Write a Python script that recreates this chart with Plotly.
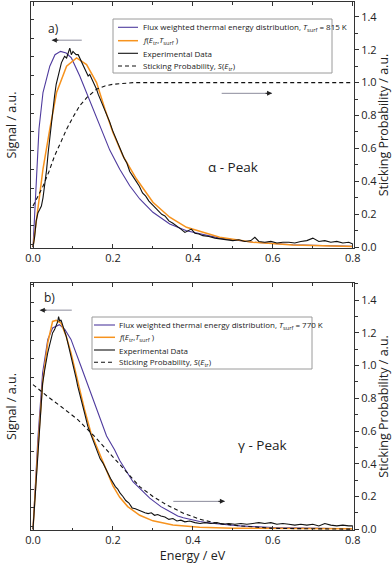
import plotly.graph_objects as go

# ---- panel a) alpha peak, T_surf = 815 K ----
a_flux_e = [0.0, 0.007, 0.015, 0.025, 0.042, 0.055, 0.069, 0.083, 0.096, 0.117, 0.13, 0.142,
            0.167, 0.192, 0.217, 0.242, 0.267, 0.30, 0.342, 0.384, 0.467, 0.55, 0.65, 0.80]
a_flux_v = [0.0, 0.37, 0.72, 0.94, 1.10, 1.17, 1.19, 1.18, 1.15, 1.04, 0.96, 0.89,
            0.74, 0.59, 0.474, 0.373, 0.293, 0.212, 0.141, 0.10, 0.055, 0.03, 0.015, 0.005]

a_fit_e = [0.0, 0.0085, 0.025, 0.042, 0.059, 0.084, 0.109, 0.134, 0.159, 0.18, 0.2, 0.225,
           0.259, 0.30, 0.342, 0.384, 0.467, 0.55, 0.65, 0.80]
a_fit_v = [0.0, 0.17, 0.475, 0.717, 0.94, 1.10, 1.15, 1.11, 1.0, 0.838, 0.697, 0.555,
           0.414, 0.273, 0.182, 0.121, 0.06, 0.03, 0.013, 0.004]

a_exp_e = [0.000, 0.004, 0.008, 0.0125, 0.017, 0.021, 0.025, 0.029, 0.034, 0.038, 0.042, 0.046,
           0.050, 0.054, 0.058, 0.063, 0.067, 0.071, 0.075, 0.079, 0.084, 0.088, 0.092, 0.096,
           0.100, 0.104, 0.108, 0.113, 0.117, 0.121, 0.125, 0.129, 0.134, 0.138, 0.142, 0.146,
           0.150, 0.155, 0.159, 0.163, 0.170, 0.177, 0.184, 0.192, 0.199, 0.206, 0.213, 0.220,
           0.228, 0.235, 0.242, 0.250, 0.258, 0.266, 0.274, 0.282, 0.290, 0.298, 0.306, 0.314,
           0.322, 0.330, 0.340, 0.350, 0.360, 0.370, 0.380, 0.388, 0.396, 0.405, 0.415, 0.425,
           0.440, 0.455, 0.470, 0.485, 0.500, 0.515, 0.530, 0.545, 0.555, 0.565, 0.580, 0.595,
           0.610, 0.625, 0.640, 0.655, 0.670, 0.685, 0.700, 0.715, 0.730, 0.745, 0.760, 0.775,
           0.790, 0.800]
a_exp_v = [0.00, 0.06, 0.16, 0.21, 0.23, 0.25, 0.30, 0.37, 0.47, 0.575, 0.67, 0.76,
           0.85, 0.92, 0.99, 1.04, 1.09, 1.12, 1.14, 1.16, 1.15, 1.18, 1.21, 1.17,
           1.19, 1.18, 1.17, 1.17, 1.15, 1.13, 1.11, 1.08, 1.06, 1.04, 1.05, 1.03,
           1.00, 0.98, 0.96, 0.93, 0.89, 0.85, 0.81, 0.76, 0.71, 0.67, 0.62, 0.58,
           0.54, 0.51, 0.46, 0.43, 0.40, 0.37, 0.33, 0.31, 0.28, 0.26, 0.24, 0.22,
           0.20, 0.19, 0.16, 0.145, 0.13, 0.11, 0.09, 0.10, 0.11, 0.085, 0.08, 0.07,
           0.065, 0.055, 0.05, 0.045, 0.04, 0.045, 0.035, 0.04, 0.06, 0.035, 0.03, 0.035,
           0.025, 0.03, 0.03, 0.025, 0.035, 0.04, 0.055, 0.035, 0.04, 0.03, 0.035, 0.025,
           0.03, 0.02]

a_stick_e = [0.0, 0.01, 0.025, 0.04, 0.054, 0.07, 0.084, 0.10, 0.117, 0.135, 0.159, 0.18,
             0.2, 0.25, 0.3, 0.4, 0.6, 0.8]
a_stick_v = [0.25, 0.30, 0.37, 0.46, 0.555, 0.64, 0.717, 0.79, 0.86, 0.91, 0.96, 0.98,
             0.99, 1.0, 1.0, 1.0, 1.0, 1.0]

# ---- panel b) gamma peak, T_surf = 770 K ----
b_flux_e = [0.0, 0.012, 0.024, 0.037, 0.049, 0.066, 0.08, 0.095, 0.12, 0.145, 0.17, 0.184,
            0.204, 0.217, 0.25, 0.279, 0.292, 0.32, 0.334, 0.362, 0.376, 0.417, 0.459, 0.518,
            0.6, 0.8]
b_flux_v = [0.0, 0.547, 0.955, 1.16, 1.23, 1.25, 1.22, 1.16, 0.996, 0.833, 0.67, 0.57,
            0.486, 0.42, 0.29, 0.22, 0.19, 0.138, 0.118, 0.081, 0.07, 0.047, 0.033, 0.02,
            0.01, 0.003]

b_fit_e = [0.0, 0.012, 0.024, 0.037, 0.049, 0.058, 0.070, 0.083, 0.095, 0.112, 0.129, 0.145,
           0.165, 0.184, 0.2, 0.217, 0.237, 0.267, 0.30, 0.35, 0.417, 0.5, 0.8]
b_fit_v = [0.0, 0.486, 0.894, 1.14, 1.27, 1.277, 1.26, 1.18, 1.078, 0.894, 0.73, 0.588,
           0.47, 0.35, 0.265, 0.195, 0.138, 0.085, 0.051, 0.026, 0.012, 0.006, 0.002]

b_exp_e = [0.000, 0.004, 0.0075, 0.012, 0.016, 0.020, 0.024, 0.029, 0.033, 0.037, 0.041, 0.045,
           0.049, 0.054, 0.058, 0.062, 0.064, 0.067, 0.070, 0.074, 0.079, 0.083, 0.087, 0.091,
           0.095, 0.100, 0.104, 0.108, 0.112, 0.116, 0.120, 0.125, 0.129, 0.133, 0.137, 0.143,
           0.150, 0.156, 0.162, 0.168, 0.175, 0.181, 0.187, 0.194, 0.200, 0.206, 0.212, 0.218,
           0.225, 0.232, 0.240, 0.248, 0.256, 0.264, 0.272, 0.280, 0.288, 0.296, 0.304, 0.312,
           0.320, 0.330, 0.340, 0.350, 0.360, 0.370, 0.380, 0.392, 0.405, 0.418, 0.430, 0.445,
           0.460, 0.475, 0.490, 0.505, 0.520, 0.535, 0.550, 0.565, 0.580, 0.595, 0.610, 0.625,
           0.640, 0.655, 0.670, 0.685, 0.700, 0.715, 0.730, 0.745, 0.760, 0.775, 0.790, 0.800]
b_exp_v = [0.00, 0.15, 0.34, 0.50, 0.63, 0.77, 0.89, 0.97, 1.04, 1.08, 1.12, 1.16,
           1.20, 1.22, 1.24, 1.27, 1.30, 1.27, 1.28, 1.25, 1.22, 1.18, 1.14, 1.10,
           1.06, 1.01, 0.975, 0.92, 0.873, 0.83, 0.79, 0.75, 0.71, 0.67, 0.63, 0.59,
           0.547, 0.50, 0.47, 0.43, 0.404, 0.37, 0.345, 0.31, 0.28, 0.26, 0.245, 0.22,
           0.20, 0.175, 0.16, 0.13, 0.125, 0.115, 0.11, 0.10, 0.095, 0.10, 0.085, 0.09,
           0.08, 0.075, 0.06, 0.065, 0.05, 0.055, 0.045, 0.05, 0.04, 0.035, 0.04, 0.035,
           0.04, 0.03, 0.035, 0.03, 0.035, 0.03, 0.035, 0.04, 0.035, 0.04, 0.03, 0.035,
           0.03, 0.025, 0.03, 0.025, 0.03, 0.02, 0.035, 0.025, 0.02, 0.025, 0.02, 0.02]

b_stick_e = [0.0, 0.037, 0.07, 0.112, 0.154, 0.195, 0.234, 0.267, 0.30, 0.334, 0.376, 0.417,
             0.459, 0.518, 0.6, 0.8]
b_stick_v = [0.884, 0.81, 0.75, 0.67, 0.567, 0.455, 0.35, 0.26, 0.2, 0.149, 0.098, 0.061,
             0.037, 0.02, 0.005, 0.0]

legend_a = ["Flux weighted thermal energy distribution, <i>T</i><sub>surf</sub> = 815 K",
            "<i>f</i>(<i>E</i><sub>tr</sub>,<i>T</i><sub>surf</sub> )",
            "Experimental Data",
            "Sticking Probability, <i>S</i>(<i>E</i><sub>tr</sub>)"]
legend_b = ["Flux weighted thermal energy distribution, <i>T</i><sub>surf</sub> = 770 K",
            "<i>f</i>(<i>E</i><sub>tr</sub>,<i>T</i><sub>surf</sub> )",
            "Experimental Data",
            "Sticking Probability, <i>S</i>(<i>E</i><sub>tr</sub>)"]

BLUE = "#4f3b9e"
ORANGE = "#f7931e"
BLACK = "#111111"
FONT = "Open Sans"

W, H = 392, 567
ML, MR, MT, MB = 31, 38, 2, 37


def px2x(px):
    return (px - ML) / (W - ML - MR)


def py2y(py):
    return (H - MB - py) / (H - MT - MB)


fig = go.Figure()

panels = [
    (a_flux_e, a_flux_v, a_fit_e, a_fit_v, a_exp_e, a_exp_v, a_stick_e, a_stick_v, "x", "y", "y2"),
    (b_flux_e, b_flux_v, b_fit_e, b_fit_v, b_exp_e, b_exp_v, b_stick_e, b_stick_v, "x2", "y3", "y4"),
]
for fe, fv, ge, gv, ee, ev, se, sv, xa, ya, ya2 in panels:
    fig.add_scatter(x=fe, y=fv, mode="lines", line=dict(color=BLUE, width=1.1),
                    xaxis=xa, yaxis=ya, showlegend=False)
    fig.add_scatter(x=ge, y=gv, mode="lines", line=dict(color=ORANGE, width=1.5),
                    xaxis=xa, yaxis=ya, showlegend=False)
    fig.add_scatter(x=ee, y=ev, mode="lines", line=dict(color=BLACK, width=1.1),
                    xaxis=xa, yaxis=ya, showlegend=False)
    fig.add_scatter(x=se, y=sv, mode="lines", line=dict(color=BLACK, width=1.1, dash="4px,3px"),
                    xaxis=xa, yaxis=ya2, showlegend=False)

axis_common = dict(showline=True, linecolor="#333", linewidth=1, showgrid=False,
                   zeroline=False, tickcolor="#333", automargin=False,
                   tickfont=dict(size=11, color="#222"))

xcommon = dict(axis_common, range=[-0.005, 0.803], dtick=0.2, tickformat=".1f",
               ticks="inside", ticklen=4, mirror="ticks",
               minor=dict(dtick=0.1, ticks="inside", ticklen=2.5, tickcolor="#333"))
yleft = dict(axis_common, ticks="inside", ticklen=3, dtick=0.114, tick0=0.016,
             showticklabels=False,
             title=dict(text="Signal / a.u.", font=dict(size=12.5, color="#222"), standoff=10))
yright = dict(axis_common, side="right", ticks="outside", ticklen=4, dtick=0.2,
              tickformat=".1f",
              minor=dict(dtick=0.1, ticks="outside", ticklen=2.5, tickcolor="#333"),
              title=dict(text="Sticking Probability / a.u.", font=dict(size=12.5, color="#222"),
                         standoff=4))

top_dom = [py2y(248), 1.0]
bot_dom = [0.0, py2y(283)]

fig.update_layout(
    width=W, height=H,
    margin=dict(l=ML, r=MR, t=MT, b=MB),
    paper_bgcolor="white", plot_bgcolor="white",
    font=dict(family=FONT, color="#222"),
    showlegend=False,
    xaxis=dict(xcommon, anchor="y"),
    yaxis=dict(yleft, domain=top_dom, anchor="x", range=[-0.005, 1.49]),
    yaxis2=dict(yright, overlaying="y", anchor="x", range=[-0.005, 1.49]),
    xaxis2=dict(xcommon, anchor="y3",
                title=dict(text="Energy / eV", font=dict(size=12.5, color="#222"), standoff=4)),
    yaxis3=dict(yleft, domain=bot_dom, anchor="x2", range=[-0.005, 1.505]),
    yaxis4=dict(yright, overlaying="y3", anchor="x2", range=[-0.005, 1.505]),
)

# panel labels and peak names
fig.add_annotation(x=px2x(46), y=py2y(18), xref="paper", yref="paper", text="a)",
                   showarrow=False, font=dict(size=12))
fig.add_annotation(x=px2x(42), y=py2y(297), xref="paper", yref="paper", text="b)",
                   showarrow=False, font=dict(size=12))
fig.add_annotation(x=0.50, y=0.487, xref="x", yref="y", text="α - Peak",
                   showarrow=False, font=dict(size=13.5))
fig.add_annotation(x=0.573, y=0.516, xref="x2", yref="y3", text="γ - Peak",
                   showarrow=False, font=dict(size=13.5))

# arrows: grey shaft, dark head
arrows = [("x", "y", 0.122, 0.047, 1.258), ("x", "y", 0.472, 0.598, 0.935),
          ("x2", "y3", 0.097, 0.017, 1.339), ("x2", "y3", 0.351, 0.48, 0.17)]
for xr, yr, x0, x1, yv in arrows:
    fig.add_shape(type="line", xref=xr, yref=yr, x0=x0, x1=x1, y0=yv, y1=yv,
                  line=dict(color="#8c8c9c", width=1))
    back = 0.02 if x1 > x0 else -0.02
    fig.add_annotation(x=x1, y=yv, ax=x1 - back, ay=yv, xref=xr, yref=yr, axref=xr, ayref=yr,
                       text="", showarrow=True, arrowhead=2, arrowsize=1, arrowwidth=1,
                       arrowcolor="#222", standoff=0)

# hand-drawn legends (tight row spacing as in the original figure)
legend_boxes = [
    (legend_a, 113, 332, 19, 73, [27.3, 40.7, 53.3, 66.0], 118, 138, 141),
    (legend_b, 92, 312, 317, 369, [325.0, 337.3, 350.0, 362.3], 94, 115, 117),
]
styles = [dict(color=BLUE, width=1.1), dict(color=ORANGE, width=1.5),
          dict(color=BLACK, width=1.1), dict(color=BLACK, width=1.1, dash="4px,3px")]
for labels, bx0, bx1, by0, by1, rows, lx0, lx1, tx in legend_boxes:
    fig.add_shape(type="rect", xref="paper", yref="paper",
                  x0=px2x(bx0), x1=px2x(bx1), y0=py2y(by1), y1=py2y(by0),
                  line=dict(color="#9a9a9a", width=1), fillcolor="white", layer="above")
    for lab, ry, st in zip(labels, rows, styles):
        fig.add_shape(type="line", xref="paper", yref="paper",
                      x0=px2x(lx0), x1=px2x(lx1), y0=py2y(ry), y1=py2y(ry), line=st)
        fig.add_annotation(x=px2x(tx), y=py2y(ry), xref="paper", yref="paper", text=lab,
                           showarrow=False, xanchor="left", yanchor="middle",
                           font=dict(size=8, color="#222"))

# the page's default body margin would push the 392x567 figure out of the window
fig.write_html("out.html", config={"displayModeBar": False},
               post_script="document.body.style.margin = '0';")
